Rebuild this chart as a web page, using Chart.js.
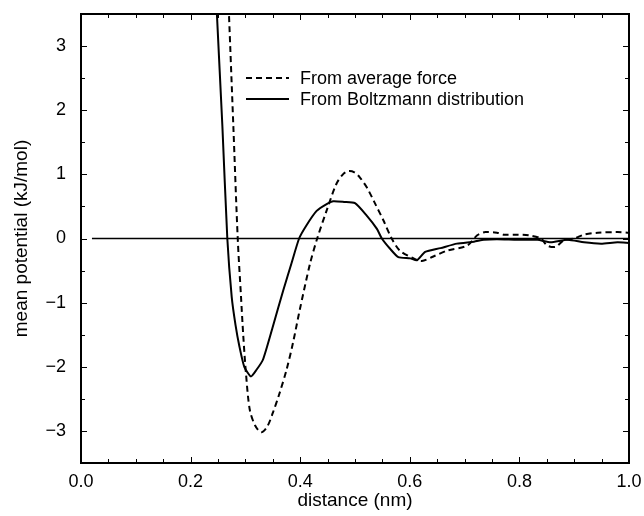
<!DOCTYPE html>
<html>
<head>
<meta charset="utf-8">
<script src="https://cdn.jsdelivr.net/npm/chart.js@4.4.1/dist/chart.umd.min.js"></script>
<style>
  html, body { margin: 0; padding: 0; background: #fff; }
  #wrap { width: 644px; height: 516px; }
</style>
</head>
<body>
<div id="wrap"><canvas id="chart" width="644" height="516"></canvas></div>
<script>
// distance (nm) and mean potential (kJ/mol)
const forceX = [0.266, 0.270, 0.278, 0.286, 0.292, 0.296, 0.301, 0.308, 0.318, 0.329, 0.340, 0.350, 0.362, 0.375, 0.387, 0.399, 0.418, 0.431, 0.448, 0.466, 0.478, 0.488, 0.499, 0.509, 0.522, 0.534, 0.552, 0.567, 0.582, 0.607, 0.622, 0.643, 0.668, 0.705, 0.723, 0.738, 0.759, 0.772, 0.796, 0.817, 0.839, 0.851, 0.866, 0.881, 0.900, 0.918, 0.943, 0.979, 1.000];
const forceY = [4.4, 3.5, 1.75, 0.0, -0.91, -1.5, -2.1, -2.67, -2.92, -3.02, -2.93, -2.72, -2.42, -2.05, -1.62, -1.12, -0.39, 0.0, 0.43, 0.85, 1.0, 1.05, 1.03, 0.95, 0.79, 0.59, 0.28, 0.0, -0.19, -0.31, -0.35, -0.28, -0.19, -0.11, 0.05, 0.10, 0.09, 0.06, 0.06, 0.05, 0.0, -0.11, -0.13, -0.03, 0.0, 0.06, 0.09, 0.10, 0.09];

const boltzX = [0.244, 0.248, 0.258, 0.267, 0.275, 0.282, 0.289, 0.298, 0.310, 0.320, 0.332, 0.350, 0.369, 0.384, 0.398, 0.411, 0.430, 0.449, 0.460, 0.480, 0.500, 0.521, 0.540, 0.549, 0.564, 0.579, 0.601, 0.613, 0.628, 0.656, 0.686, 0.717, 0.735, 0.759, 0.796, 0.833, 0.857, 0.888, 0.918, 0.949, 0.979, 1.000];
const boltzY = [4.3, 3.5, 1.75, 0.0, -0.91, -1.35, -1.68, -2.0, -2.15, -2.05, -1.89, -1.375, -0.81, -0.39, 0.0, 0.2, 0.43, 0.54, 0.58, 0.57, 0.55, 0.36, 0.15, 0.0, -0.16, -0.29, -0.31, -0.34, -0.21, -0.15, -0.08, -0.05, -0.02, -0.01, -0.02, -0.02, -0.06, -0.02, -0.06, -0.08, -0.06, -0.07];

const zeroX = [0.02, 1.0];
const zeroY = [0, 0];

const xTicks = [0.0, 0.2, 0.4, 0.6, 0.8, 1.0];
const yTicks = [-3, -2, -1, 0, 1, 2, 3];
const legendLabels = ["From average force", "From Boltzmann distribution"];

const FONT = "'Liberation Sans', Arial, sans-serif";

const toPoints = (xs, ys) => xs.map((x, i) => ({ x: x, y: ys[i] }));

// keep the plot box fixed: no extra room for overhanging tick labels
const noOverhang = (scale) => {
  scale.paddingTop = 0;
  scale.paddingBottom = 0;
  scale.paddingLeft = 0;
  scale.paddingRight = 0;
};

// frame, inward ticks and the legend inside the plot
const framePlugin = {
  id: "frame",
  afterDraw: (chart) => {
    const { ctx, chartArea: a, scales } = chart;
    const xs = scales.x;
    const ys = scales.y;
    ctx.save();
    ctx.strokeStyle = "#000";
    ctx.lineWidth = 2;
    ctx.strokeRect(a.left, a.top, a.right - a.left, a.bottom - a.top);

    ctx.lineWidth = 1;
    ctx.beginPath();
    for (let i = 0; i <= 20; i++) {
      const px = Math.round(xs.getPixelForValue(i * 0.05)) + 0.5;
      const len = i % 4 === 0 ? 6 : 4;
      ctx.moveTo(px, a.bottom);
      ctx.lineTo(px, a.bottom - len);
      ctx.moveTo(px, a.top);
      ctx.lineTo(px, a.top + len);
    }
    for (let i = -6; i <= 6; i++) {
      const py = Math.round(ys.getPixelForValue(i * 0.5)) + 0.5;
      const len = i % 2 === 0 ? 6 : 4;
      ctx.moveTo(a.left, py);
      ctx.lineTo(a.left + len, py);
      ctx.moveTo(a.right, py);
      ctx.lineTo(a.right - len, py);
    }
    ctx.stroke();

    // legend
    ctx.font = "18px " + FONT;
    ctx.fillStyle = "#000";
    ctx.textBaseline = "middle";
    ctx.lineWidth = 2;
    const lx = 246, rows = [78, 99];
    ctx.setLineDash([6, 4]);
    ctx.beginPath();
    ctx.moveTo(lx, rows[0]);
    ctx.lineTo(lx + 43, rows[0]);
    ctx.stroke();
    ctx.setLineDash([]);
    ctx.beginPath();
    ctx.moveTo(lx, rows[1]);
    ctx.lineTo(lx + 43, rows[1]);
    ctx.stroke();
    ctx.fillText(legendLabels[0], 300, rows[0] + 1);
    ctx.fillText(legendLabels[1], 300, rows[1] + 1);
    ctx.restore();
  },
};

new Chart(document.getElementById("chart"), {
  type: "scatter",
  data: {
    datasets: [
      {
        label: "zero",
        data: toPoints(zeroX, zeroY),
        showLine: true,
        borderColor: "#000",
        borderWidth: 1.5,
        pointRadius: 0,
      },
      {
        label: legendLabels[0],
        data: toPoints(forceX, forceY),
        showLine: true,
        borderColor: "#000",
        borderWidth: 2,
        borderDash: [6, 4],
        pointRadius: 0,
        tension: 0.3,
      },
      {
        label: legendLabels[1],
        data: toPoints(boltzX, boltzY),
        showLine: true,
        borderColor: "#000",
        borderWidth: 2,
        pointRadius: 0,
        tension: 0.2,
      },
    ],
  },
  options: {
    responsive: false,
    animation: false,
    layout: { padding: { top: 14, right: 15, left: 0, bottom: 0 } },
    scales: {
      x: {
        type: "linear",
        min: 0,
        max: 1,
        afterBuildTicks: (scale) => {
          scale.ticks = xTicks.map((v) => ({ value: v }));
        },
        afterFit: (scale) => {
          scale.height = 53;
          noOverhang(scale);
        },
        grid: { display: false, drawTicks: false },
        border: { display: false },
        ticks: {
          padding: 8,
          color: "#000",
          font: { family: FONT, size: 18 },
          maxRotation: 0,
          callback: (v) => Number(v).toFixed(1),
        },
        title: {
          display: true,
          text: "distance (nm)",
          color: "#000",
          font: { family: FONT, size: 19 },
          padding: { top: 0, bottom: 4 },
        },
      },
      y: {
        type: "linear",
        min: -3.5,
        max: 3.5,
        afterBuildTicks: (scale) => {
          scale.ticks = yTicks.map((v) => ({ value: v }));
        },
        afterFit: (scale) => {
          scale.width = 81;
          noOverhang(scale);
        },
        grid: { display: false, drawTicks: false },
        border: { display: false },
        ticks: {
          padding: 15,
          color: "#000",
          font: { family: FONT, size: 18 },
          callback: (v) => (v < 0 ? "\u2212" + Math.abs(v) : String(v)),
        },
        title: {
          display: true,
          text: "mean potential (kJ/mol)",
          color: "#000",
          font: { family: FONT, size: 19 },
          padding: { top: 10, bottom: 0 },
        },
      },
    },
    plugins: {
      legend: { display: false },
      tooltip: { enabled: false },
    },
  },
  plugins: [framePlugin],
});
</script>
</body>
</html>
